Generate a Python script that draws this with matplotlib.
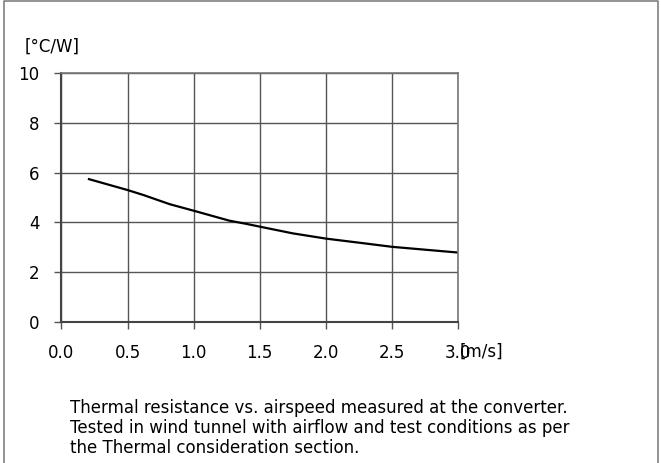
import numpy as np
import matplotlib
matplotlib.use("Agg")
import matplotlib.pyplot as plt
from matplotlib.lines import Line2D

plt.rcParams['font.family'] = ['DejaVu Sans']

# thermal resistance vs airspeed
airspeed = [0.2, 0.5, 0.62, 0.82, 1.0, 1.27, 1.4, 1.5, 1.75, 2.0, 2.26, 2.5, 2.76, 3.0]
rth      = [5.75, 5.30, 5.10, 4.73, 4.47, 4.07, 3.94, 3.83, 3.56, 3.35, 3.18, 3.02, 2.90, 2.79]

xticks = [0.0, 0.5, 1.0, 1.5, 2.0, 2.5, 3.0]
yticks = [0, 2, 4, 6, 8, 10]

caption = ("Thermal resistance vs. airspeed measured at the converter.\n"
           "Tested in wind tunnel with airflow and test conditions as per\n"
           "the Thermal consideration section.")

fig = plt.figure(figsize=(6.61, 4.63), dpi=100)
ax = fig.add_axes([0.093, 0.3045, 0.600, 0.5378])

ax.plot(airspeed, rth, color='black', lw=1.6, solid_capstyle='butt')

ax.set_xlim(0, 3.0)
ax.set_ylim(0, 10)
ax.set_xticks(xticks)
ax.set_xticklabels(['%.1f' % v for v in xticks])
ax.set_yticks(yticks)
ax.tick_params(axis='both', direction='out', length=5, width=1, color='#555555',
               labelsize=12, labelcolor='black')
ax.tick_params(axis='x', pad=11)
ax.tick_params(axis='y', pad=11)
ax.grid(True, color='#555555', lw=1)
ax.set_axisbelow(True)
for s in ['top', 'right']:
    ax.spines[s].set_color('#777777')
    ax.spines[s].set_linewidth(1.2)
for s in ['left', 'bottom']:
    ax.spines[s].set_color('#444444')
    ax.spines[s].set_linewidth(1.5)

fig.text(25 / 661, 1 - 47 / 463, '[°C/W]', fontsize=12, va='center', ha='left')
fig.text(460 / 661, 1 - 352 / 463, '[m/s]', fontsize=12, va='center', ha='left')
fig.text(70 / 661, 1 - 428 / 463, caption, fontsize=12, va='center', ha='left',
         linespacing=1.12)

# open frame around the picture (no bottom edge in the original)
xl, xr, yt = 3.5 / 661, 657.5 / 661, 1 - 1 / 463
fig.lines.append(Line2D([xl, xl, xr, xr], [0, yt, yt, 0], transform=fig.transFigure,
                        color='#808080', lw=1.2))

fig.savefig('out.png', dpi=100)
